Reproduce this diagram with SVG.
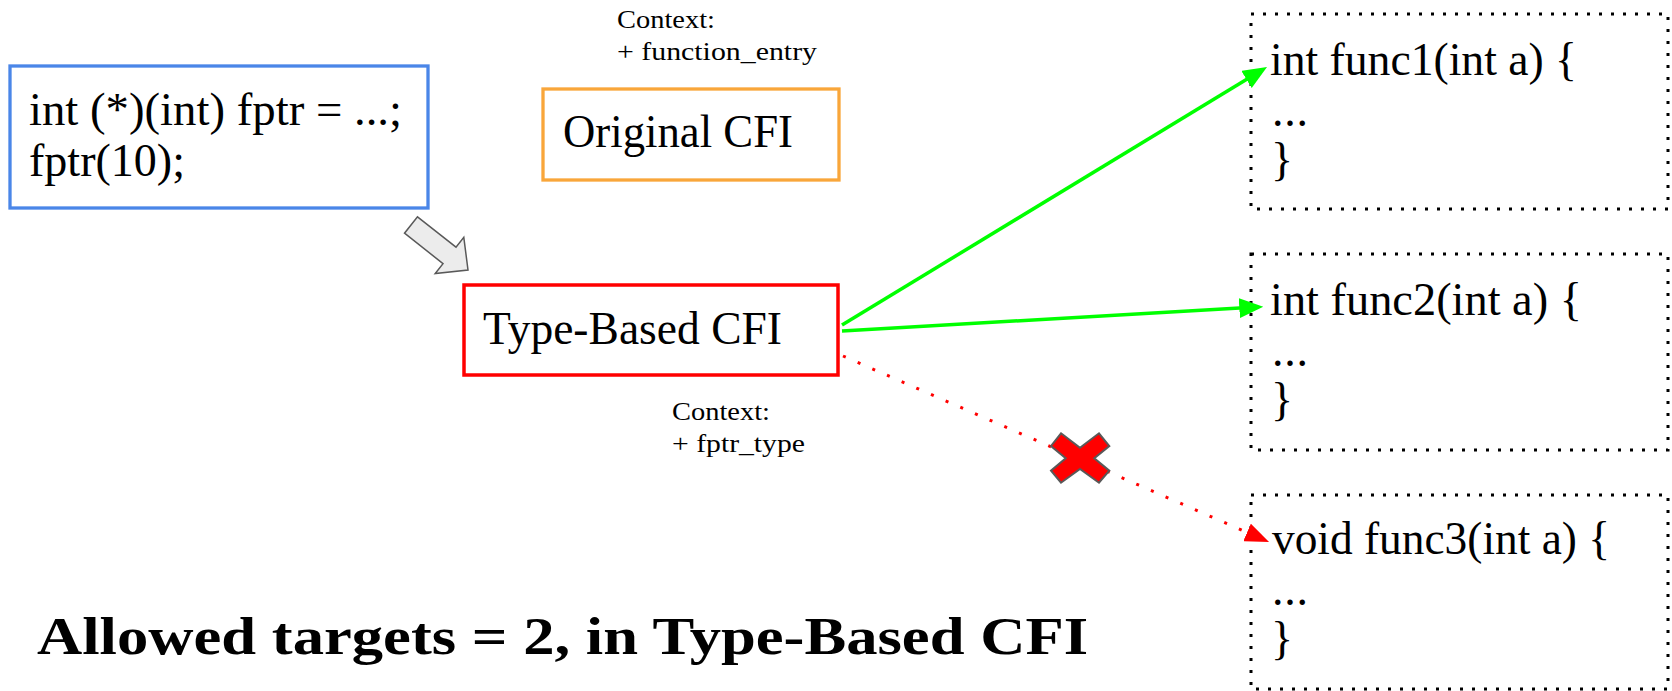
<svg xmlns="http://www.w3.org/2000/svg" width="1672" height="691" viewBox="0 0 1672 691">
<style>
.t{font-family:"Liberation Serif","Times New Roman",serif;fill:#000}
.big{font-size:46px}
.sm{font-size:25px}
.bold{font-size:53px;font-weight:bold}
.fn{fill:#fff;stroke:#000;stroke-width:3;stroke-dasharray:3 9}
</style>
<defs>
<marker id="ag" viewBox="0 0 24 20" refX="9" refY="10" markerWidth="24" markerHeight="20" markerUnits="userSpaceOnUse" orient="auto"><path d="M0,0 L24,10 L0,20 z" fill="#00ff00"/></marker>
<marker id="ar" viewBox="0 0 24 19" refX="9" refY="9.5" markerWidth="24" markerHeight="19" markerUnits="userSpaceOnUse" orient="auto"><path d="M0,0 L24,9.5 L0,19 z" fill="#ff0000"/></marker>
</defs>
<rect width="1672" height="691" fill="#fff"/>
<g id="code">
<rect x="10" y="66" width="418" height="142" fill="#fff" stroke="#4a86e8" stroke-width="3.3"/>
<text class="t big" x="29" y="125" textLength="373" lengthAdjust="spacingAndGlyphs">int (*)(int) fptr = ...;</text>
<text class="t big" x="29" y="176" textLength="156" lengthAdjust="spacingAndGlyphs">fptr(10);</text>
</g>
<g id="ctx1">
<text class="t sm" x="617" y="28" textLength="98" lengthAdjust="spacingAndGlyphs">Context:</text>
<text class="t sm" x="617" y="60" textLength="200" lengthAdjust="spacingAndGlyphs">+ function_entry</text>
</g>
<g id="original">
<rect x="543" y="89" width="296" height="91" fill="#fff" stroke="#f9a63a" stroke-width="3.3"/>
<text class="t big" x="563" y="147" textLength="230" lengthAdjust="spacingAndGlyphs">Original CFI</text>
</g>
<g id="blockarrow">
<polygon points="417.5,216.8 456,247.2 463.8,237.3 468,270 435.2,273.5 443,263.6 404.5,233.2" fill="#ececec" stroke="#595959" stroke-width="1.5" stroke-linejoin="miter"/>
</g>
<g id="typebased">
<rect x="464" y="285" width="374" height="90" fill="#fff" stroke="#ff0000" stroke-width="3.5"/>
<text class="t big" x="483" y="344" textLength="299" lengthAdjust="spacingAndGlyphs">Type-Based CFI</text>
</g>
<g id="ctx2">
<text class="t sm" x="672" y="420" textLength="98" lengthAdjust="spacingAndGlyphs">Context:</text>
<text class="t sm" x="672" y="452" textLength="133" lengthAdjust="spacingAndGlyphs">+ fptr_type</text>
</g>
<g id="func1">
<rect class="fn" x="1251" y="14" width="417" height="195"/>
<text class="t big" x="1270" y="75" textLength="307" lengthAdjust="spacingAndGlyphs">int func1(int a) {</text>
<text class="t big" x="1272" y="126" textLength="36" lengthAdjust="spacing">...</text>
<text class="t big" x="1271" y="175">}</text>
</g>
<g id="func2">
<rect class="fn" x="1251" y="254" width="417" height="196"/>
<text class="t big" x="1270" y="315" textLength="312" lengthAdjust="spacingAndGlyphs">int func2(int a) {</text>
<text class="t big" x="1272" y="366" textLength="36" lengthAdjust="spacing">...</text>
<text class="t big" x="1271" y="415">}</text>
</g>
<g id="func3">
<rect class="fn" x="1251" y="495" width="417" height="194"/>
<text class="t big" x="1272" y="554" textLength="338" lengthAdjust="spacingAndGlyphs">void func3(int a) {</text>
<text class="t big" x="1272" y="605" textLength="36" lengthAdjust="spacing">...</text>
<text class="t big" x="1271" y="654">}</text>
</g>
<g id="connectors">
<line x1="842" y1="325" x2="1254.2" y2="74.8" stroke="#00ff00" stroke-width="3.5" marker-end="url(#ag)"/>
<line x1="842" y1="331" x2="1248.3" y2="307.6" stroke="#00ff00" stroke-width="3.5" marker-end="url(#ag)"/>
<line x1="843" y1="356" x2="1255.3" y2="536" stroke="#ff0000" stroke-width="3" stroke-dasharray="3 13" marker-end="url(#ar)"/>
</g>
<g id="cross">
<polygon points="1061,433.3 1080,447.7 1099,433.3 1109.3,446 1094.3,458.3 1109.3,470.7 1099,482.7 1080,469 1061,482.7 1051,470.7 1065.7,458.3 1051,446" fill="#ff0000" stroke="#595959" stroke-width="2" stroke-linejoin="miter"/>
</g>
<g id="caption">
<text class="t bold" x="37" y="654" textLength="1051" lengthAdjust="spacingAndGlyphs">Allowed targets = 2, in Type-Based CFI</text>
</g>
</svg>
